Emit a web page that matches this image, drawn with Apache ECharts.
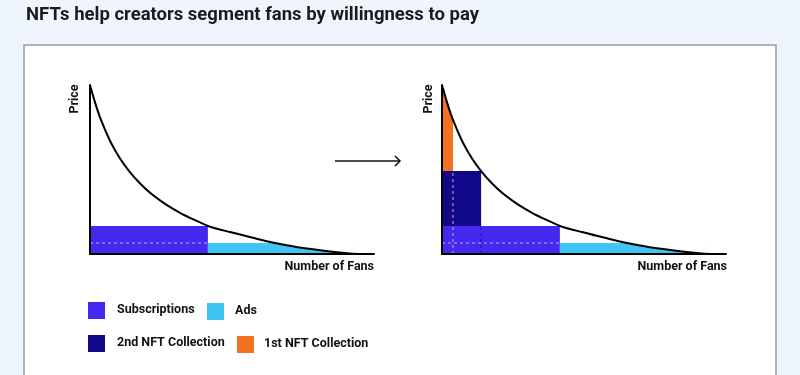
<!DOCTYPE html>
<html>
<head>
<meta charset="utf-8">
<script src="https://cdn.jsdelivr.net/npm/echarts@6/dist/echarts.min.js"></script>
<style>
html,body{margin:0;padding:0;background:#eef5fc;}
#c{width:800px;height:375px;}
</style>
</head>
<body>
<div id="c"></div>
<script>
// Demand curve (fans in % of curve end, price in % of max)
const fans  = [0, 1.9, 4.1, 7.5, 11.2, 14.6, 18.7, 23.1, 28.0, 33.6, 39.2, 44, 52.2, 61.6, 70.9, 80.2, 89.6, 95.1, 100];
const price = [100, 89.6, 79.3, 66.9, 56.5, 49.1, 41.7, 35.3, 29.7, 24.4, 20.0, 16.6, 13.0, 9.3, 5.9, 3.4, 1.5, 0.6, 0];

// Segment boundaries (fans end, price level)
const subsEnd = 44,  subsPrice = 16.6;
const adsEnd = 100,  adsPrice = 6.5;
const nft2End = 14.6, nft2Price = 49.1;
const nft1End = 4.1,  nft1Price = 100;

const legendItems = ['Subscriptions', 'Ads', '2nd NFT Collection', '1st NFT Collection'];
const titleText = 'NFTs help creators segment fans by willingness to pay';

const COLORS = {subs:'#4429f0', ads:'#3fc4f4', nft2:'#100a8a', nft1:'#f4711f'};
const FONT = 'Roboto';

const curve = fans.map((f,i)=>[f, price[i]]);

function rectSeries(g, box, color){
  return {
    type:'custom', xAxisIndex:g, yAxisIndex:g, z:1, silent:true,
    data:[box],
    encode:{x:[0,2], y:[1,3]},
    renderItem:(p,api)=>{
      const a = api.coord([api.value(0), api.value(3)]);
      const b = api.coord([api.value(2), api.value(1)]);
      return {type:'rect', shape:{x:a[0], y:a[1], width:b[0]-a[0], height:b[1]-a[1]}, style:{fill:color}};
    }
  };
}
function curveSeries(g){
  return {
    type:'line', xAxisIndex:g, yAxisIndex:g, z:3, silent:true,
    data:curve, showSymbol:false, smooth:0.25,
    lineStyle:{color:'#000', width:2},
    areaStyle:{color:'#ffffff', opacity:1, origin:'end'}
  };
}
function dashSeries(g, pts, color){
  return {
    type:'line', xAxisIndex:g, yAxisIndex:g, z:2, silent:true,
    data:pts, showSymbol:false,
    lineStyle:{color:color, width:1, type:[3,3]}
  };
}

const axisX = g => ({type:'value', gridIndex:g, min:0, max:106, z:10,
  axisLine:{show:true, onZero:false, lineStyle:{color:'#000', width:2}},
  axisTick:{show:false}, axisLabel:{show:false}, splitLine:{show:false}});
const axisY = g => ({type:'value', gridIndex:g, min:0, max:100, z:10,
  axisLine:{show:true, onZero:false, lineStyle:{color:'#000', width:2}},
  axisTick:{show:false}, axisLabel:{show:false}, splitLine:{show:false}});

const series = [
  // left chart
  rectSeries(0, [0, 0, subsEnd, subsPrice], COLORS.subs),
  rectSeries(0, [subsEnd, 0, adsEnd, adsPrice], COLORS.ads),
  dashSeries(0, [[0, adsPrice],[subsEnd, adsPrice]], '#b9b0ff'),
  curveSeries(0),
  // right chart
  rectSeries(1, [0, nft2Price, nft1End, nft1Price], COLORS.nft1),
  rectSeries(1, [0, subsPrice, nft2End, nft2Price], COLORS.nft2),
  rectSeries(1, [0, 0, subsEnd, subsPrice], COLORS.subs),
  rectSeries(1, [subsEnd, 0, adsEnd, adsPrice], COLORS.ads),
  dashSeries(1, [[0, adsPrice],[subsEnd, adsPrice]], '#b9b0ff'),
  dashSeries(1, [[nft1End, 0],[nft1End, nft2Price]], '#f19ab8'),
  dashSeries(1, [[nft2End, 0],[nft2End, subsPrice]], '#1a1280'),
  curveSeries(1)
];

const lab = (x,y,t,align,rot)=>({type:'text', x:x, y:y, z:20, rotation:rot||0,
  style:{text:t, fill:'#111', font:'bold 12.5px '+FONT, textAlign:align||'left', textVerticalAlign:'middle'}});
const box = (x,y,c)=>({type:'rect', z:20, shape:{x:x, y:y, width:17, height:17}, style:{fill:c}});

const chart = echarts.init(document.getElementById('c'), null, {renderer:'canvas'});
chart.setOption({
  backgroundColor:'#eef5fc',
  animation:false,
  title:{text:titleText, left:21, top:1, textStyle:{fontFamily:'Roboto', fontWeight:'bold', fontSize:18.5, color:'#1b1b1b'}},
  grid:[
    {left:90, top:85, width:284, height:169},
    {left:442, top:85, width:284, height:169}
  ],
  xAxis:[axisX(0), axisX(1)],
  yAxis:[axisY(0), axisY(1)],
  series:series,
  graphic:[
    {type:'rect', z:-10, shape:{x:24, y:45, width:752, height:345},
     style:{fill:'#ffffff', stroke:'#9a9a9a', lineWidth:1.5}},
    // axis titles
    lab(75, 99, 'Price', 'center', Math.PI/2),
    lab(429, 99, 'Price', 'center', Math.PI/2),
    lab(374, 267, 'Number of Fans', 'right'),
    lab(727, 267, 'Number of Fans', 'right'),
    // arrow
    {type:'line', z:20, shape:{x1:335, y1:161, x2:400, y2:161}, style:{stroke:'#111', lineWidth:1.5}},
    {type:'polyline', z:20, shape:{points:[[395,156],[400,161],[395,166]]}, style:{stroke:'#111', lineWidth:1.5, fill:null}},
    // legend
    box(88, 302, COLORS.subs), lab(117, 310, legendItems[0]),
    box(207, 303, COLORS.ads), lab(235, 311, legendItems[1]),
    box(88, 335, COLORS.nft2), lab(117, 343, legendItems[2]),
    box(237, 336, COLORS.nft1), lab(264, 344, legendItems[3])
  ]
});
</script>
</body>
</html>
